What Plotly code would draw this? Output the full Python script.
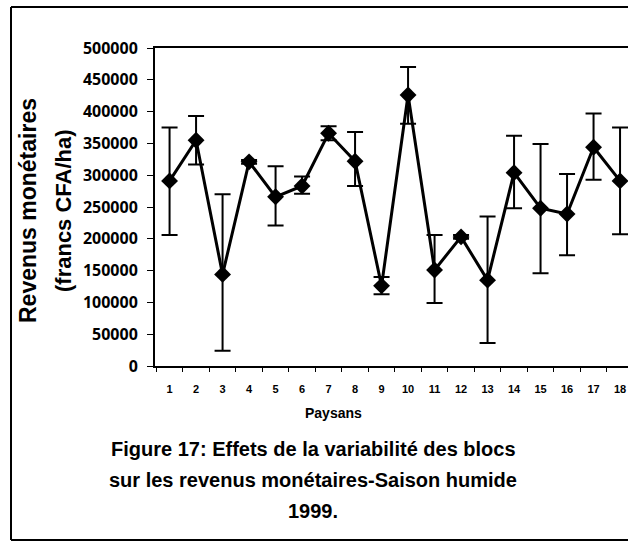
import plotly.graph_objects as go

# Paysans 1..18, revenus moyens et barres d'erreur
paysans = [str(i) for i in range(1, 19)]
revenus = [291000, 355000, 144000, 321000, 266000, 283000, 366000, 322000, 126000,
           426000, 151000, 203000, 135000, 304000, 248000, 239000, 344000, 291000]
err_haut = [84000, 38000, 126000, 3000, 48000, 15000, 11000, 46000, 14000,
            44000, 55000, 3000, 100000, 58000, 101000, 63000, 53000, 84000]
err_bas = [85000, 38000, 120000, 3000, 45000, 12000, 11000, 39000, 13000,
           45000, 52000, 3000, 99000, 56000, 102000, 65000, 51000, 84000]
y_ticks = list(range(0, 500001, 50000))

fig = go.Figure()
fig.add_trace(go.Scatter(
    x=paysans, y=revenus, mode="lines+markers",
    line=dict(color="black", width=3),
    marker=dict(symbol="diamond", size=13, color="black"),
    error_y=dict(type="data", symmetric=False, array=err_haut, arrayminus=err_bas,
                 color="black", thickness=2, width=8),
    showlegend=False,
))

fig.update_layout(
    width=628, height=542,
    margin=dict(l=155, r=0, t=48, b=176),
    paper_bgcolor="white", plot_bgcolor="white",
    font=dict(family="Liberation Sans", color="black"),
    xaxis=dict(
        type="category", range=[-0.55, 17.3], automargin=False,
        showline=True, linecolor="black", linewidth=2, mirror=True,
        ticks="outside", tickson="boundaries", ticklen=4, tickcolor="black",
        ticklabelstandoff=12,
        tickfont=dict(size=11, weight="bold"), showgrid=False,
    ),
    yaxis=dict(
        range=[0, 500000], tickvals=y_ticks, ticktext=[str(v) for v in y_ticks],
        automargin=False,
        showline=True, linecolor="black", linewidth=2,
        ticks="outside", ticklen=6, tickcolor="black", ticklabelstandoff=6,
        tickfont=dict(size=16, weight="bold", family="Open Sans"),
        showgrid=False, zeroline=False,
    ),
)

# Titres d'axe et légende de figure
def texte(txt, px, py, taille, angle=0):
    fig.add_annotation(text=txt, xref="paper", yref="paper",
                       x=(px - 155) / 473, y=(366 - py) / 318,
                       xanchor="center", yanchor="middle", textangle=angle,
                       showarrow=False, font=dict(size=taille, weight="bold"))

texte("Revenus monétaires", 28, 211, 23, -90)
texte("(francs CFA/ha)", 63, 211, 22, -90)
texte("Paysans", 333, 413, 14)
caption = ["Figure 17: Effets de la variabilité des blocs",
           "sur les revenus monétaires-Saison humide",
           "1999."]
for i, line in enumerate(caption):
    texte(line, 313, 449 + 31 * i, 20)

# cadre autour de la figure (4 côtés séparés)
gx, dx = (11 - 155) / 473, (640 - 155) / 473
hy, by = (366 - 7) / 318, (366 - 540) / 318
for x0, y0, x1, y1 in [(gx, hy, dx, hy), (gx, by, dx, by), (gx, by, gx, hy)]:
    fig.add_shape(type="line", xref="paper", yref="paper",
                  x0=x0, y0=y0, x1=x1, y1=y1,
                  line=dict(color="black", width=2))

# enlever la marge par défaut du body pour caler la figure sur la fenêtre
fig.write_html("out.html", config={"displayModeBar": False},
               post_script="document.body.style.margin='0';")
